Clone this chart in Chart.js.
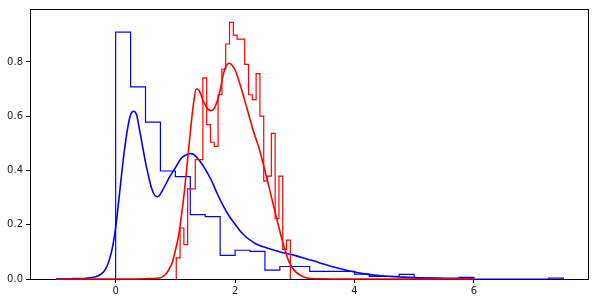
<!DOCTYPE html>
<html>
<head>
<meta charset="utf-8">
<script src="https://cdn.jsdelivr.net/npm/chart.js@4.4.0/dist/chart.umd.min.js"></script>
<style>
  html, body { margin: 0; padding: 0; background: #fff; }
  #wrap { width: 595px; height: 303px; }
</style>
</head>
<body>
<div id="wrap"><canvas id="c" width="595" height="303"></canvas></div>
<script>
// ---- data ----
const xTicks = [0, 2, 4, 6];
const yTicks = [0.0, 0.2, 0.4, 0.6, 0.8];

// Blue histogram (density, step), 30 bins starting at 0, width 0.25
const blueBinStart = 0.0;
const blueBinWidth = 0.25;
const blueHist = [0.910, 0.708, 0.578, 0.398, 0.377, 0.237, 0.230, 0.087, 0.106, 0.102,
                  0.033, 0.046, 0.046, 0.028, 0.028, 0.028, 0.018, 0.010, 0.010, 0.017,
                  0.000, 0.000, 0.000, 0.006, 0.000, 0.000, 0.000, 0.000, 0.000, 0.003];

// Red histogram (density, step), 30 bins starting at 1.015, width 0.0637
const redBinStart = 1.015;
const redBinWidth = 0.0637;
const redHist = [0.078, 0.188, 0.127, 0.332, 0.332, 0.440, 0.440, 0.741, 0.569, 0.504,
                 0.489, 0.679, 0.773, 0.866, 0.946, 0.899, 0.884, 0.884, 0.791, 0.679,
                 0.661, 0.757, 0.600, 0.361, 0.379, 0.537, 0.222, 0.379, 0.109, 0.143];

// Blue KDE
const blueKdeX = [-1.0, -0.75, -0.5, -0.4, -0.3, -0.2, -0.15, -0.1, -0.05, 0.0, 0.05, 0.1, 0.15, 0.2, 0.25,
                  0.3, 0.35, 0.4, 0.45, 0.5, 0.55, 0.6, 0.65, 0.7, 0.8, 0.9, 1.0, 1.1, 1.2, 1.25, 1.3,
                  1.4, 1.5, 1.6, 1.7, 1.8, 1.9, 2.0, 2.1, 2.2, 2.3, 2.4, 2.5, 2.6, 2.8, 3.0, 3.2, 3.4,
                  3.6, 3.8, 4.0, 4.2, 4.5, 4.8, 5.0, 5.5, 6.0];
const blueKdeY = [0.000, 0.001, 0.003, 0.005, 0.011, 0.027, 0.045, 0.075, 0.120, 0.190, 0.285, 0.387, 0.480, 0.555, 0.605,
                  0.618, 0.605, 0.550, 0.490, 0.430, 0.380, 0.335, 0.310, 0.303, 0.333, 0.375, 0.410, 0.445, 0.460, 0.462, 0.460,
                  0.438, 0.405, 0.365, 0.315, 0.270, 0.232, 0.202, 0.173, 0.152, 0.136, 0.124, 0.117, 0.110, 0.097, 0.087, 0.074, 0.061,
                  0.047, 0.036, 0.026, 0.018, 0.011, 0.007, 0.005, 0.003, 0.002];

// Red KDE
const redKdeX = [-1.0, 0.0, 0.5, 0.7, 0.77, 0.85, 0.9, 0.95, 1.0, 1.05, 1.1, 1.15, 1.2, 1.25, 1.3, 1.35, 1.4,
                 1.45, 1.5, 1.55, 1.6, 1.65, 1.7, 1.75, 1.8, 1.85, 1.9, 1.95, 2.0, 2.1, 2.2, 2.3, 2.4, 2.5,
                 2.6, 2.7, 2.8, 2.9, 3.0, 3.1, 3.2, 3.4, 4.0, 5.0, 6.0];
const redKdeY = [0.000, 0.000, 0.001, 0.003, 0.006, 0.020, 0.038, 0.062, 0.105, 0.155, 0.230, 0.320, 0.430, 0.540, 0.640, 0.700, 0.695,
                 0.665, 0.642, 0.625, 0.620, 0.628, 0.655, 0.695, 0.752, 0.785, 0.795, 0.788, 0.770, 0.705, 0.628, 0.550, 0.483, 0.400,
                 0.310, 0.220, 0.135, 0.065, 0.030, 0.013, 0.004, 0.001, 0.000, 0.000, 0.000];

// ---- build ----
function stepPoints(start, width, heights) {
  const pts = [{x: start, y: 0}];
  heights.forEach((h, i) => {
    pts.push({x: start + i * width, y: h});
    pts.push({x: start + (i + 1) * width, y: h});
  });
  pts.push({x: start + heights.length * width, y: 0});
  return pts;
}
function xy(xs, ys) { return xs.map((x, i) => ({x: x, y: ys[i]})); }

const framePlugin = {
  id: 'frame',
  beforeDatasetsDraw(chart) {
    const a = chart.chartArea, ctx = chart.ctx;
    ctx.save();
    ctx.strokeStyle = '#000';
    ctx.lineWidth = 1;
    ctx.strokeRect(Math.round(a.left) + 0.5, Math.round(a.top) + 0.5,
                   Math.round(a.right - a.left) - 1, Math.round(a.bottom - a.top));
    ctx.restore();
  }
};

new Chart(document.getElementById('c'), {
  type: 'line',
  data: {
    datasets: [
      { data: xy(redKdeX, redKdeY), borderColor: '#ff0000', borderWidth: 1.6, pointRadius: 0,
        cubicInterpolationMode: 'monotone', order: 0, clip: 3 },
      { data: stepPoints(redBinStart, redBinWidth, redHist), borderColor: '#ff0000', borderWidth: 1.2,
        pointRadius: 0, tension: 0, order: 1, clip: 3 },
      { data: xy(blueKdeX, blueKdeY), borderColor: '#0000ff', borderWidth: 1.6, pointRadius: 0,
        cubicInterpolationMode: 'monotone', order: 2, clip: 3 },
      { data: stepPoints(blueBinStart, blueBinWidth, blueHist), borderColor: '#0000ff', borderWidth: 1.2,
        pointRadius: 0, tension: 0, order: 3, clip: 3 }
    ]
  },
  options: {
    responsive: false,
    animation: false,
    events: [],
    layout: { padding: { left: 0, top: 7, right: 6.5, bottom: 0 } },
    plugins: { legend: { display: false }, tooltip: { enabled: false } },
    scales: {
      x: {
        type: 'linear', min: -1.435, max: 7.92,
        afterBuildTicks: s => { s.ticks = xTicks.map(v => ({value: v})); },
        afterFit: s => { s.height = 24; },
        grid: { drawOnChartArea: false, color: '#000', tickLength: 4, tickWidth: 1 },
        border: { display: false },
        ticks: { color: '#222', padding: 2, maxRotation: 0,
                 font: { family: 'DejaVu Sans', size: 10 },
                 callback: v => String(v) }
      },
      y: {
        type: 'linear', min: 0, max: 0.995,
        afterBuildTicks: s => { s.ticks = yTicks.map(v => ({value: v})); },
        afterFit: s => { s.width = 30; },
        grid: { drawOnChartArea: false, color: '#000', tickLength: 4, tickWidth: 1 },
        border: { display: false },
        ticks: { color: '#222', padding: 3,
                 font: { family: 'DejaVu Sans', size: 10 },
                 callback: v => Number(v).toFixed(1) }
      }
    }
  },
  plugins: [framePlugin]
});
</script>
</body>
</html>
